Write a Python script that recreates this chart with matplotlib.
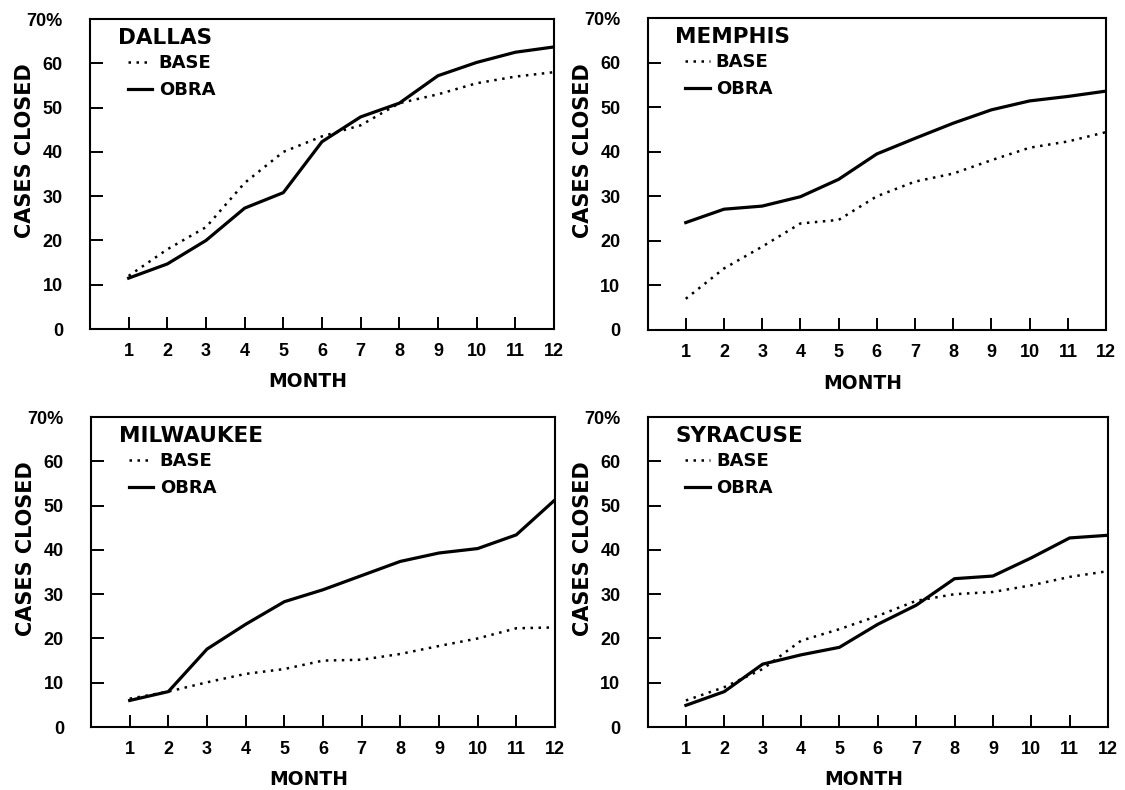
import matplotlib
matplotlib.use("Agg")
import matplotlib.pyplot as plt
from matplotlib.lines import Line2D

plt.rcParams['font.family'] = ['DejaVu Sans']
plt.rcParams['font.weight'] = 'bold'

months = list(range(1, 13))
cities = ['DALLAS', 'MEMPHIS', 'MILWAUKEE', 'SYRACUSE']

# percent of cases closed
dallas_base = [12, 18, 23, 33, 40, 43.5, 46, 51, 53, 55.5, 57, 58]
dallas_obra = [11.5, 14.7, 20, 27.3, 30.8, 42.3, 47.9, 51, 57.2, 60.2, 62.5, 63.7]
memphis_base = [7, 13.8, 18.7, 23.9, 24.7, 30, 33.3, 35.1, 38.1, 40.9, 42.3, 44.4]
memphis_obra = [24.1, 27.1, 27.8, 29.9, 33.8, 39.5, 43, 46.4, 49.4, 51.4, 52.4, 53.6]
milwaukee_base = [6.4, 8, 10.1, 12, 13.1, 15, 15.2, 16.5, 18.3, 20, 22.3, 22.5]
milwaukee_obra = [6, 8, 17.6, 23.2, 28.3, 31, 34.2, 37.4, 39.3, 40.3, 43.4, 51.3]
syracuse_base = [6, 9, 13.1, 19.5, 22.1, 25.1, 28.5, 30, 30.5, 32, 33.9, 35.2]
syracuse_obra = [4.9, 8, 14.2, 16.3, 18, 23.2, 27.5, 33.5, 34.1, 38.2, 42.7, 43.3]

y_ticks = [0, 10, 20, 30, 40, 50, 60, 70]
y_labels = ['0', '10', '20', '30', '40', '50', '60', '70%']

base_series = [dallas_base, memphis_base, milwaukee_base, syracuse_base]
obra_series = [dallas_obra, memphis_obra, milwaukee_obra, syracuse_obra]

# axes boxes in figure fractions (left, bottom, width, height)
boxes = [[0.0800, 0.5835, 0.4124, 0.3924],
         [0.5756, 0.5823, 0.4076, 0.3949],
         [0.0809, 0.0797, 0.4124, 0.3924],
         [0.5756, 0.0797, 0.4093, 0.3924]]

dotted = (0, (1, 2.2))
tick_font = {'family': 'Liberation Sans', 'weight': 'bold', 'size': 13}

fig = plt.figure(figsize=(11.25, 7.9), dpi=100)

for i in range(4):
    ax = fig.add_axes(boxes[i])
    ax.plot(months, base_series[i], color='black', linewidth=1.8, linestyle=dotted)
    ax.plot(months, obra_series[i], color='black', linewidth=2.3)

    ax.set_xlim(0, 12)
    ax.set_ylim(0, 70)
    ax.set_xticks(months)
    ax.set_xticklabels([str(m) for m in months], fontdict=tick_font)
    ax.set_yticks(y_ticks)
    ax.set_yticklabels(y_labels, fontdict=tick_font)
    ax.tick_params(direction='in', length=9, width=1.4)
    ax.tick_params(axis='y', pad=19.5)
    ax.tick_params(axis='x', pad=10)
    for s in ax.spines.values():
        s.set_linewidth(1.5)

    ax.set_xlabel('MONTH', fontsize=13.5, fontweight='bold')
    ax.xaxis.set_label_coords(0.47, -0.14)
    ax.set_ylabel('CASES CLOSED', fontsize=15, fontweight='bold')
    ax.yaxis.set_label_coords(-0.118, 0.575)

    ax.text(0.060, 0.920, cities[i], transform=ax.transAxes, fontsize=15.5,
            fontweight='bold', va='baseline', ha='left')

    handles = [Line2D([0], [0], color='black', linewidth=1.8, linestyle=dotted),
               Line2D([0], [0], color='black', linewidth=2.3)]
    ax.legend(handles, ['BASE', 'OBRA'], loc='upper left', bbox_to_anchor=(0.082, 0.887),
              frameon=False, handlelength=1.35, handletextpad=0.35,
              labelspacing=0.5, borderpad=0, borderaxespad=0,
              prop={'family': 'DejaVu Sans', 'weight': 'bold', 'size': 13})

fig.savefig('out.png', dpi=100)
